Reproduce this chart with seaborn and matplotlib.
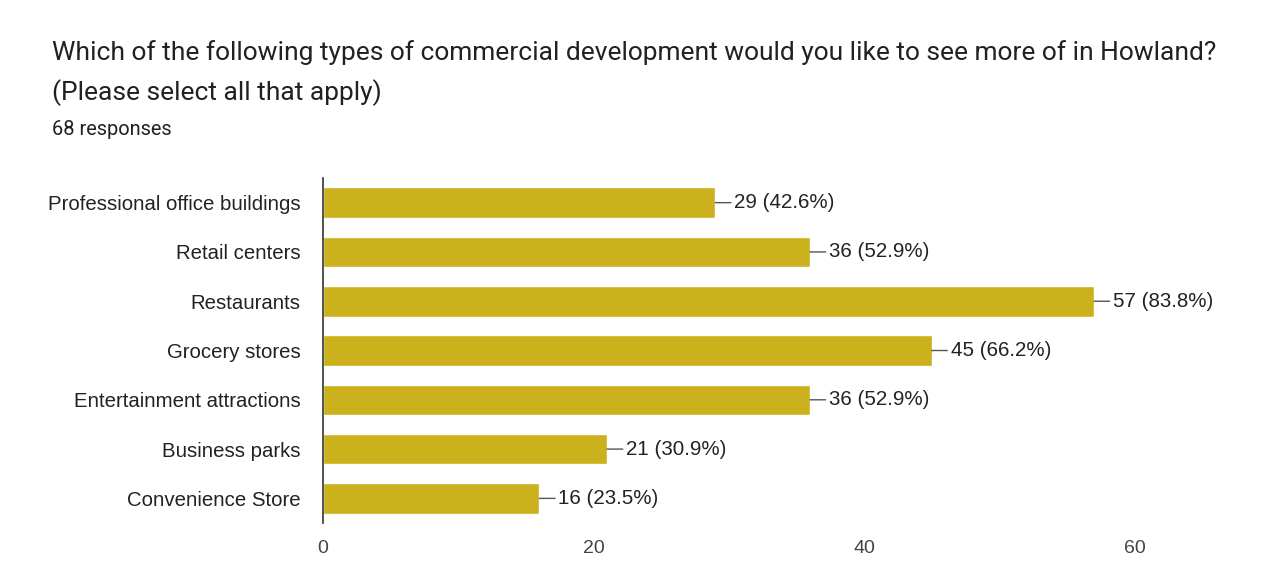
import matplotlib
matplotlib.use("Agg")
import matplotlib.pyplot as plt
import seaborn as sns
import pandas as pd

categories = [
    "Professional office buildings",
    "Retail centers",
    "Restaurants",
    "Grocery stores",
    "Entertainment attractions",
    "Business parks",
    "Convenience Store",
]
counts = [29, 36, 57, 45, 36, 21, 16]
percents = [42.6, 52.9, 83.8, 66.2, 52.9, 30.9, 23.5]
total_responses = 68
x_ticks = [0, 20, 40, 60]

title_lines = [
    "Which of the following types of commercial development would you like to see more of in Howland?",
    "(Please select all that apply)",
]
subtitle = f"{total_responses} responses"

sns.set_theme(style="white")
plt.rcParams["font.family"] = ["Liberation Sans", "DejaVu Sans"]

df = pd.DataFrame({"category": categories, "count": counts, "pct": percents})

fig = plt.figure(figsize=(12.72, 5.68), dpi=100)
ax = fig.add_axes([0.2539, 0.0792, 0.7231, 0.6074])

bar_color = "#cbb11b"
sns.barplot(data=df, x="count", y="category", orient="h", color=bar_color,
            saturation=1, width=0.62, ax=ax)

for i, (c, p) in enumerate(zip(counts, percents)):
    ax.annotate(f"{c} ({p:.1f}%)", xy=(c, i), xytext=(19, 0),
                textcoords="offset pixels", va="center", ha="left",
                fontsize=14.8, color="#222222",
                arrowprops=dict(arrowstyle="-", color="#555555", lw=1,
                                shrinkA=0, shrinkB=0))

ax.set_xlim(0, total_responses)
ax.set_ylim(len(categories) - 0.5, -0.5)
ax.set_xticks(x_ticks)
ax.set_xlabel("")
ax.set_ylabel("")
ax.tick_params(axis="x", labelsize=14, labelcolor="#444444", length=0, pad=12)
ax.tick_params(axis="y", labelsize=14.7, labelcolor="#222222", length=0, pad=16)
for side in ["top", "right", "bottom"]:
    ax.spines[side].set_visible(False)
ax.spines["left"].set_color("#333333")
ax.spines["left"].set_linewidth(1.2)

title_font = ["Roboto", "DejaVu Sans"]
for line, baseline in zip(title_lines, [60, 100]):
    fig.text(52 / 1272, 1 - baseline / 568, line, fontsize=19, color="#202124",
             family=title_font, ha="left", va="baseline")
fig.text(52 / 1272, 1 - 135 / 568, subtitle, fontsize=14.4, color="#202124",
         family=title_font, ha="left", va="baseline")

fig.savefig("out.png", dpi=100, facecolor="white")
